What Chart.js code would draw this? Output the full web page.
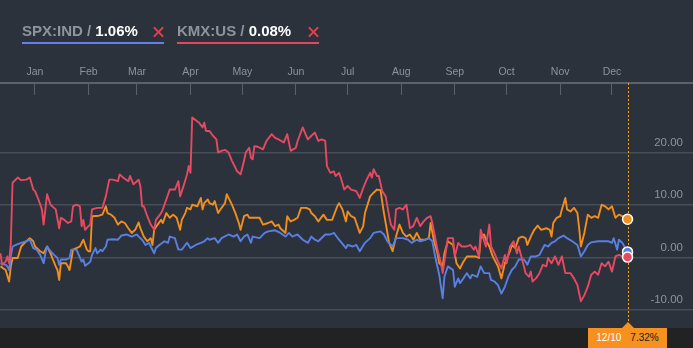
<!DOCTYPE html>
<html>
<head>
<meta charset="utf-8">
<script src="https://cdn.jsdelivr.net/npm/chart.js@4.4.0/dist/chart.umd.min.js"></script>
<style>
  html, body { margin: 0; padding: 0; background: #2b323c; }
  #wrap { position: relative; width: 693px; height: 348px; overflow: hidden; background: #2b323c; font-family: "Liberation Sans", Arial, sans-serif; }
  #chart { position: absolute; left: 0; top: 0; }
  .item { position: absolute; top: 22px; width: 142px; height: 17px; line-height: 17px; padding-bottom: 3px; font-size: 15px; font-weight: bold; white-space: nowrap; }
  .item .sym { color: #8e949c; }
  .item .pct { color: #ffffff; }
  .item .close { position: absolute; right: 0; top: 4px; width: 11px; height: 11px; }
  .item .close:before, .item .close:after { content: ""; position: absolute; left: -1px; top: 4.5px; width: 13px; height: 2px; background: #e8404f; }
  .item .close:before { transform: rotate(45deg); }
  .item .close:after { transform: rotate(-45deg); }
  #band { position: absolute; left: 0; top: 328px; width: 693px; height: 20px; background: #212224; }
  #tag { position: absolute; top: 328px; width: 79px; height: 20px; background: #f6901e; font-size: 10px; line-height: 20px; text-align: center; white-space: nowrap; }
  #tag:before { content: ""; position: absolute; left: 33.5px; top: -6px; border-left: 6px solid transparent; border-right: 6px solid transparent; border-bottom: 6px solid #f6901e; }
  #tag .d { color: #ffffff; margin-right: 9px; }
  #tag .v { color: #1c1c1c; }
</style>
</head>
<body>
<div id="wrap">
  <canvas id="chart" width="693" height="328"></canvas>
  <div class="item" style="left:22px; border-bottom:2px solid #6680ea;"><span class="sym">SPX:IND / </span><span class="pct">1.06%</span><span class="close"></span></div>
  <div class="item" style="left:177px; border-bottom:2px solid #e6475d;"><span class="sym">KMX:US / </span><span class="pct">0.08%</span><span class="close"></span></div>
  <div id="band"></div>
  <div id="tag"><span class="d">12/10</span><span class="v">7.32%</span></div>
</div>
<script>
// days counted from Jan 1 (negative = previous December), values in %
const monthStarts = [0, 31, 59, 90, 120, 151, 181, 212, 243, 273, 304, 334];
const monthLabels = ["Jan", "Feb", "Mar", "Apr", "May", "Jun", "Jul", "Aug", "Sep", "Oct", "Nov", "Dec"];
const yTicks = [-10, 0, 10, 20];

const kmxDays = [-20,-19,-17,-16,-15,-14,-13,-10,-8,-5,-3,-1,0,2,4,5,6,7,9,11,12,14,15,17,19,21,22,24,26,27,28,29,31,32,33,36,39,
  41,43,45,48,49,51,54,55,57,59,60,61,62,63,65,67,69,70,73,74,76,78,81,83,84,86,88,89,90,91,95,97,98,99,
  101,103,105,106,108,110,112,114,116,117,119,121,122,124,125,126,127,129,132,134,137,139,141,144,146,148,151,152,155,157,158,160,
  162,164,166,168,169,171,173,174,176,177,179,181,183,186,188,190,192,194,195,196,198,199,201,203,205,206,208,209,211,213,215,217,219,221,
  223,225,227,229,230,233,235,236,238,239,242,243,245,247,250,252,254,255,257,258,260,261,263,264,266,268,270,272,273,275,277,279,280,283,
  284,286,287,288,290,292,294,296,297,299,301,303,305,307,310,312,314,316,318,320,322,324,326,328,330,332,334,336,338,340,343];
const kmxValues = [0.8,-1.4,-0.8,0.2,-1.1,2.8,14.3,15.3,14.8,14.9,15.3,13.0,12.7,11.1,9.2,6.3,9.2,12.1,10.1,9.5,9.2,5.6,7.6,7.2,6.6,6.9,9.8,10.1,9.8,6.0,7.2,5.3,6.0,6.3,9.2,9.5,9.5,
  11.7,14.9,14.9,14.6,15.9,15.3,14.6,15.6,14.0,14.6,14.9,13.7,9.8,9.8,7.9,6.3,5.3,7.2,8.5,9.2,11.1,13.0,13.0,14.6,11.7,13.7,15.9,17.5,16.2,26.8,25.8,24.9,25.8,24.2,
  24.2,23.3,22.6,20.1,20.4,20.6,20.1,18.5,17.2,16.5,15.9,18.5,20.1,21.0,19.1,18.8,21.3,21.2,20.7,22.3,23.6,22.9,22.6,22.0,23.6,20.4,21.0,22.3,24.9,23.3,22.6,23.3,
  23.9,22.3,22.6,22.3,17.5,16.2,16.5,15.6,16.2,15.3,13.0,13.7,13.0,12.7,11.4,13.3,14.9,16.2,15.3,16.9,15.6,15.6,12.7,11.7,7.9,6.3,5.3,9.2,9.5,9.2,10.1,5.6,6.0,7.6,
  6.0,6.9,7.6,7.9,6.6,1.5,-1.1,-3.0,1.5,3.7,3.7,0.2,2.8,2.1,2.1,2.4,1.5,2.1,0.2,5.3,3.1,2.1,6.3,2.1,0.8,-0.8,-2.1,0.5,-1.1,2.1,3.1,0.8,2.1,-1.7,
  -3.0,-3.7,-2.7,-4.6,-4.0,-3.0,-1.4,-1.7,-0.1,-1.1,0.2,-1.4,0.2,-3.0,-3.0,-4.0,-5.3,-8.4,-7.2,-5.6,-3.3,-2.7,-3.3,-1.1,-1.7,-0.8,-2.7,0.2,0.5,0.2,0.08];

const spxDays = [-20,-17,-16,-15,-14,-13,-11,-8,-5,-3,-1,1,3,5,6,7,9,11,13,14,15,18,20,21,24,27,28,29,31,32,33,35,36,38,39,
  41,42,45,48,50,53,56,59,60,62,64,66,67,69,70,72,75,77,78,81,83,85,87,88,90,93,96,98,100,
  101,104,106,108,112,115,117,119,121,123,125,126,130,133,135,139,142,145,147,149,152,155,158,160,
  162,164,168,171,173,176,180,181,184,186,188,191,194,196,200,202,204,207,209,213,216,218,221,
  223,226,228,230,232,234,235,236,237,239,242,243,245,246,248,250,252,253,256,258,260,263,264,266,268,270,272,274,276,278,280,283,
  284,285,287,290,292,295,297,299,301,303,306,308,311,314,316,318,320,322,326,332,334,335,337,338,340,343];
const spxValues = [-1.1,-1.4,-1.7,-2.4,0.2,2.1,2.4,2.8,3.1,3.4,1.8,1.5,0.5,-1.1,0.8,2.1,1.2,0.5,-0.1,-1.4,-0.4,-0.4,-0.1,1.5,1.5,-0.8,-0.4,-1.6,-1.1,-0.8,0.5,1.8,0.8,1.5,1.2,
  2.1,3.4,3.5,3.4,4.2,4.4,4.0,4.4,4.0,3.4,2.4,2.8,2.1,0.8,1.8,2.4,3.1,2.8,4.0,3.7,1.5,1.5,2.4,2.8,1.8,2.4,2.8,3.1,3.7,
  3.4,3.7,2.8,3.7,4.4,4.0,4.4,3.1,4.0,4.4,2.8,4.0,3.7,4.7,5.0,5.2,4.7,4.0,4.7,4.0,4.4,3.4,2.8,4.0,
  3.4,3.1,4.4,4.4,4.7,3.4,1.8,2.4,2.1,2.4,1.2,2.8,3.7,4.7,5.0,4.4,3.1,2.1,3.7,3.7,3.4,2.8,3.4,
  3.1,3.4,3.7,3.1,-0.4,-3.3,-5.6,-7.8,-3.7,-1.7,-2.4,-5.6,-4.0,-4.9,-4.0,-3.0,-4.0,-3.3,-3.7,-1.7,-3.0,-3.0,-4.3,-4.6,-5.3,-6.9,-5.6,-3.7,-2.4,-1.7,-0.4,-0.4,
  -0.8,-1.4,0.2,0.2,0.5,2.4,2.1,2.8,3.1,3.7,4.2,3.7,3.1,2.4,0.2,1.2,2.4,2.9,3.1,3.1,2.8,3.7,1.5,3.4,2.8,1.06];

const baseDays = [-20,-17,-15,-14,-13,-10,-8,-6,-5,-3,-1,0,3,5,7,9,10,12,13,14,15,18,19,20,22,24,26,28,30,31,32,33,37,39,
  41,42,44,46,48,50,52,54,56,58,60,61,63,65,67,68,69,71,73,74,76,78,80,82,84,85,87,88,90,91,94,96,97,98,100,
  101,103,104,106,108,110,111,113,114,116,118,119,121,123,124,126,130,132,135,137,139,141,142,145,146,148,150,152,154,157,159,160,
  162,164,167,169,172,175,176,178,180,181,183,185,188,190,191,194,196,198,200,202,203,205,207,209,211,213,215,217,219,221,
  223,226,228,229,231,233,234,236,237,239,242,244,246,248,250,255,257,258,260,261,263,265,268,270,272,275,276,278,280,282,
  284,285,287,289,291,293,296,298,299,300,302,304,305,307,308,310,312,314,315,316,318,320,322,324,326,328,330,332,334,336,338,340,343];
const baseValues = [-1.7,-2.4,-4.6,-1.7,-0.1,-0.1,2.1,2.8,3.1,3.7,3.1,2.1,1.2,0.8,2.1,0.8,-0.1,-1.7,-2.4,-4.3,-1.1,-1.1,-1.7,-2.4,1.5,1.8,2.1,3.4,1.5,1.2,1.2,7.9,8.0,8.2,
  9.8,8.5,8.2,7.6,6.3,6.9,6.6,5.6,4.7,5.3,6.7,5.6,4.0,3.1,3.7,2.4,5.3,6.3,7.2,6.6,8.5,7.6,8.2,7.6,5.3,7.2,8.5,9.5,9.2,10.1,9.8,11.4,9.2,10.4,11.1,
  10.4,10.1,10.8,8.5,9.5,10.4,12.1,10.8,10.1,8.5,6.6,5.3,7.9,8.2,7.6,7.6,7.6,6.3,6.6,6.9,6.0,6.3,5.6,4.7,7.9,6.9,7.2,7.6,9.5,9.5,9.2,8.5,
  7.9,6.9,8.2,7.2,7.2,9.8,10.4,9.2,6.9,8.8,7.9,7.6,4.7,6.0,8.5,11.7,12.4,13.0,12.9,8.5,6.6,2.8,1.2,4.0,6.3,4.7,4.0,4.4,3.4,4.7,
  3.4,3.4,3.7,6.6,3.1,0.8,-1.1,-1.7,0.8,3.1,2.4,-1.1,-2.1,-0.8,0.2,0.2,-0.1,3.7,4.4,3.4,2.1,0.2,-1.7,-4.0,-1.1,1.2,2.4,1.8,3.7,4.0,
  3.7,2.4,4.0,5.3,6.1,5.3,5.6,5.3,4.0,6.6,7.6,7.9,9.2,11.4,9.2,8.8,9.5,8.5,5.6,2.1,4.7,8.2,7.6,7.9,7.6,10.1,9.8,9.2,9.8,7.6,8.2,7.9,7.32];

const lastDay = 343;

function toPoints(days, values) {
  return days.map((d, i) => ({ x: d, y: values[i] }));
}

function lineSet(label, days, values, color) {
  return {
    label,
    data: toPoints(days, values),
    borderColor: color,
    backgroundColor: color,
    borderWidth: 1.9,
    tension: 0,
    borderJoinStyle: "round",
    pointRadius: ctx => (ctx.dataIndex === days.length - 1 ? 5 : 0),
    pointBorderColor: "#ffffff",
    pointBorderWidth: 1.5,
    pointHoverRadius: 0,
  };
}

// dotted marker at the latest date
const cursorLine = {
  id: "cursorLine",
  beforeDatasetsDraw(chart) {
    const { ctx, chartArea, scales } = chart;
    const x = Math.round(scales.x.getPixelForValue(lastDay)) + 0.5;
    ctx.save();
    ctx.strokeStyle = "#f5a31e";
    ctx.lineWidth = 1;
    ctx.setLineDash([2, 2]);
    ctx.beginPath();
    ctx.moveTo(x, chartArea.top);
    ctx.lineTo(x, chartArea.bottom);
    ctx.stroke();
    ctx.restore();
  },
};

const axisGrey = "#8d939b";

const chart = new Chart(document.getElementById("chart"), {
  type: "line",
  data: {
    datasets: [
      lineSet("KMX:US", kmxDays, kmxValues, "#e64a62"),
      lineSet("SPX:IND", spxDays, spxValues, "#5a7fe3"),
      lineSet("", baseDays, baseValues, "#f28e1c"),
    ],
  },
  options: {
    responsive: false,
    animation: false,
    events: [],
    layout: { autoPadding: false, padding: { top: 66, left: 0, right: 0, bottom: 0 } },
    plugins: { legend: { display: false }, tooltip: { enabled: false } },
    scales: {
      x: {
        type: "linear",
        position: "top",
        min: -20.26,
        max: 380.9,
        afterBuildTicks: s => { s.ticks = monthStarts.map(v => ({ value: v })); },
        afterFit: s => { s.height = 17; s.paddingLeft = 0; s.paddingRight = 0; },
        grid: { drawOnChartArea: false, tickLength: -12, color: "#5a6069", lineWidth: 1 },
        border: { color: "#5b626b", width: 2 },
        ticks: {
          padding: 17,
          color: axisGrey,
          font: { family: "Liberation Sans", size: 10.5 },
          maxRotation: 0,
          autoSkip: false,
          callback: (v, i) => monthLabels[i],
        },
      },
      y: {
        position: "right",
        min: -13.5,
        max: 33.4,
        afterBuildTicks: s => { s.ticks = yTicks.map(v => ({ value: v })); },
        afterFit: s => { s.width = 0; s.paddingTop = 0; s.paddingBottom = 0; },
        grid: { color: "#474d56", lineWidth: 1.5, drawTicks: false },
        border: { display: false },
        ticks: {
          mirror: true,
          padding: -10,
          labelOffset: -10,
          color: axisGrey,
          font: { family: "Liberation Sans", size: 11.5 },
          callback: v => v.toFixed(2),
        },
      },
    },
  },
  plugins: [cursorLine],
});

// place the date tag under the cursor line
const tag = document.getElementById("tag");
tag.style.left = (chart.scales.x.getPixelForValue(lastDay) - 39.5) + "px";
</script>
</body>
</html>
